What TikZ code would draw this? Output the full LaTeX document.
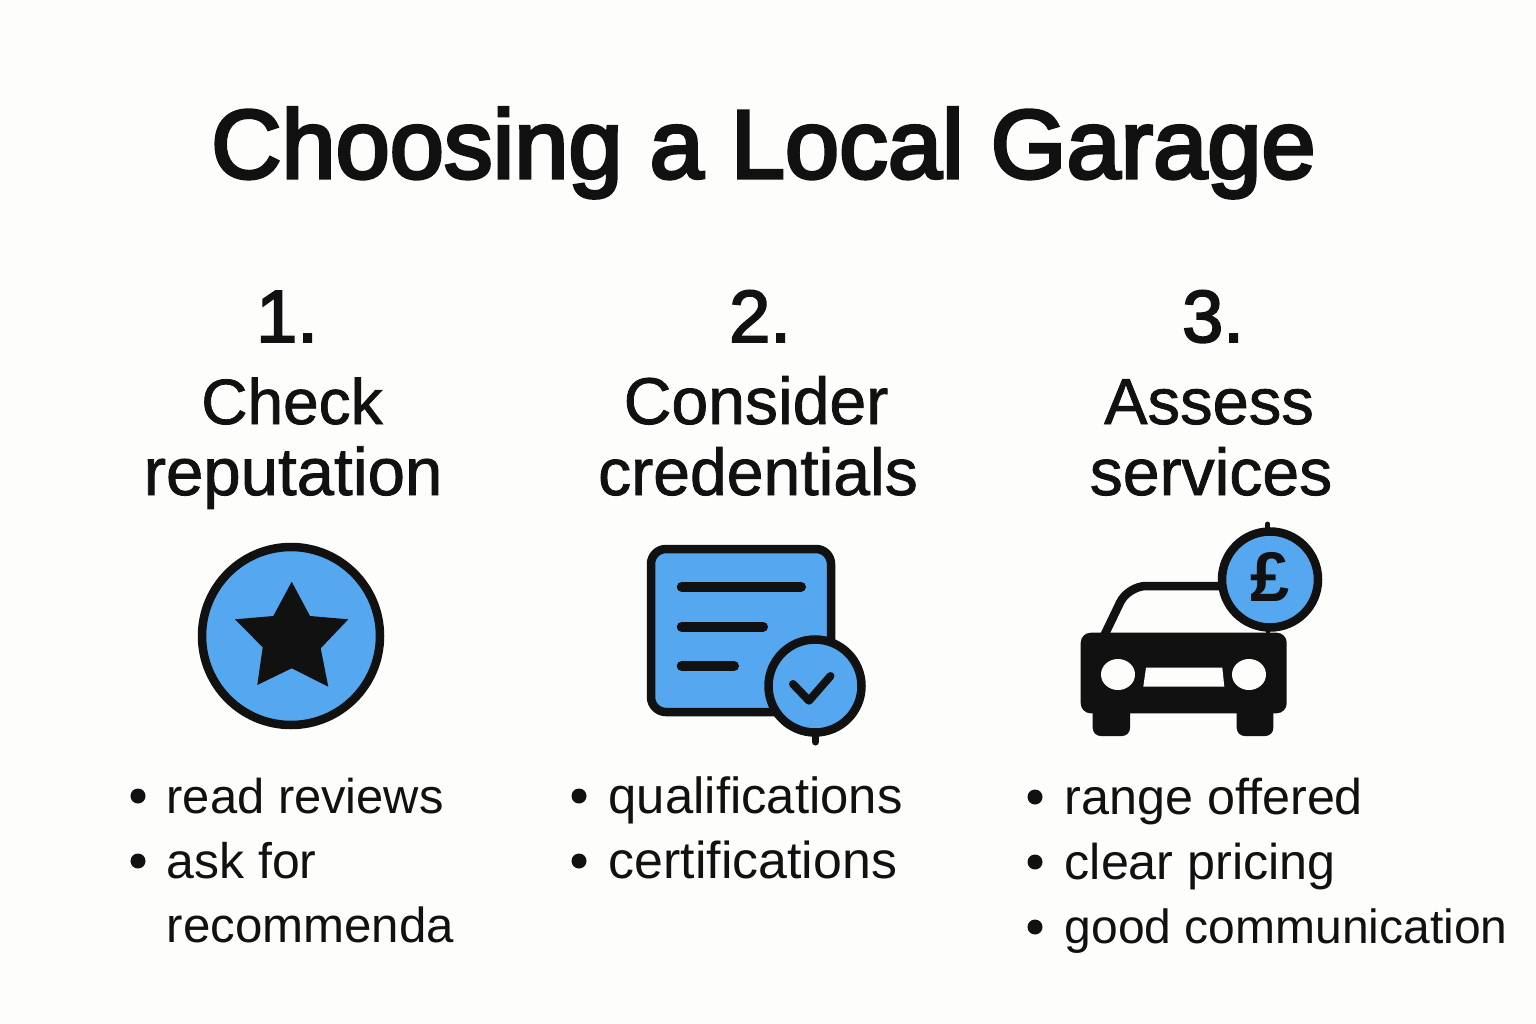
\documentclass[tikz,border=0pt]{standalone}
\usepackage{fontspec}
\setmainfont{Liberation Sans}
\newfontfamily\headfont{Liberation Sans}[FakeBold=1.2]
\newfontfamily\numfont{Liberation Sans}[FakeBold=2.6]
\newfontfamily\titlefont{Liberation Sans}[FakeBold=3.4]
\definecolor{inkblack}{HTML}{111111}
\definecolor{iconblue}{HTML}{55A8F0}
\definecolor{paper}{HTML}{FDFDFB}

\begin{document}
\begin{tikzpicture}[x=0.01cm, y=-0.01cm,
        title/.style = {anchor=base, inner sep=0pt, text=inkblack, font=\fontsize{27.7}{34}\selectfont\titlefont},
        numeral/.style = {anchor=base, inner sep=0pt, text=inkblack, font=\fontsize{21}{25}\selectfont\numfont},
        heading/.style = {anchor=base, inner sep=0pt, text=inkblack, font=\fontsize{#1}{22}\selectfont\headfont},
        item/.style = {anchor=base west, inner sep=0pt, text=inkblack, font=\fontsize{#1}{17}\selectfont},
        dot/.style = {circle, fill=inkblack, inner sep=0pt, minimum size=0.15cm},
        outline/.style = {draw=inkblack, line width=0.085cm},
        bar/.style = {draw=inkblack, line width=0.1cm, line cap=round}]
    \useasboundingbox (0,0) rectangle (1536,1024);
    \fill[paper] (0,0) rectangle (1536,1024);

    \node[title] (maintitle) at (763.5,178) {Choosing a Local Garage};

    % first column
    \node[numeral] (numone) at (287,342) {1.};
    \node[heading=18.2] (checkword) at (292,424) {Check};
    \node[heading=19.1] (repword) at (293,495) {reputation};
    \filldraw[outline, fill=iconblue] (291,636) circle (89);
    \fill[inkblack] (291.7,581.7) -- (310,616) -- (348.3,619.3) -- (320.7,648.3) -- (328.3,686.7)
        -- (291.7,668.3) -- (257.3,685) -- (262.7,647.3) -- (235,619.3) -- (273.3,616) -- cycle;
    \node[dot] (dotonea) at (138,796) {};
    \node[item=13.9] (reviews) at (166,813) {read reviews};
    \node[dot] (dotoneb) at (138,861) {};
    \node[item=14.2] (askfor) at (166,878) {ask for};
    \node[item=14] (recomm) at (166,942) {recommenda};

    % second column
    \node[numeral] (numtwo) at (760,342) {2.};
    \node[heading=18.8] (considerword) at (756,424) {Consider};
    \node[heading=18.8] (credword) at (758,495) {credentials};
    \filldraw[outline, fill=iconblue, rounded corners=0.15cm] (651,549) rectangle (831,712);
    \draw[bar] (681.7,586.7) -- (801,586.7);
    \draw[bar] (681.7,626.7) -- (763,626.7);
    \draw[bar] (681.7,666) -- (734,666);
    \draw[inkblack, line width=0.07cm, line cap=round] (815.5,736) -- (815.5,742);
    \filldraw[outline, fill=iconblue] (815,686) circle (46.5);
    \draw[inkblack, line width=0.08cm, line cap=round, line join=round] (793,684) -- (809,700.7) -- (830.5,676);
    \node[dot] (dottwoa) at (579,796) {};
    \node[item=14.45] (quals) at (608,813) {qualifications};
    \node[dot] (dottwob) at (579,861) {};
    \node[item=14.75] (certs) at (608,878) {certifications};

    % third column
    \node[numeral] (numthree) at (1213,342) {3.};
    \node[heading=18.5] (assessword) at (1209,424) {Assess};
    \node[heading=18.8] (servword) at (1211,495) {services};
    \draw[inkblack, line width=0.085cm, rounded corners=0.18cm] (1104,636) -- (1128,586) -- (1225,586);
    \fill[inkblack, rounded corners=0.1cm] (1080.7,632.7) rectangle (1286.7,713.3);
    \fill[inkblack, rounded corners=0.08cm] (1092.7,700) rectangle (1130,736);
    \fill[inkblack, rounded corners=0.08cm] (1236.7,700) rectangle (1273.3,736);
    \fill[paper] (1118,674.5) ellipse (17 and 15.5);
    \fill[paper] (1249,674.5) ellipse (17 and 15.5);
    \fill[paper] (1146,667.7) -- (1222.3,667.7) -- (1224.3,686.7) -- (1143.3,686.7) -- cycle;
    \draw[inkblack, line width=0.05cm, line cap=round] (1267.7,524) -- (1267.7,532);
    \draw[inkblack, line width=0.04cm] (1267.7,628) -- (1267.7,636);
    \filldraw[outline, fill=iconblue] (1270,579.5) circle (48);
    \node[anchor=center, inner sep=0pt, text=inkblack, font=\fontsize{20}{24}\selectfont\bfseries] (pound) at (1270,577) {£};
    \node[dot] (dotthreea) at (1035,797) {};
    \node[item=14.3] (range) at (1064,814) {range offered};
    \node[dot] (dotthreeb) at (1035,862) {};
    \node[item=14.3] (pricing) at (1064,879) {clear pricing};
    \node[dot] (dotthreec) at (1035,927) {};
    \node[item=13.65] (commun) at (1064,943) {good communication};
\end{tikzpicture}
\end{document}
